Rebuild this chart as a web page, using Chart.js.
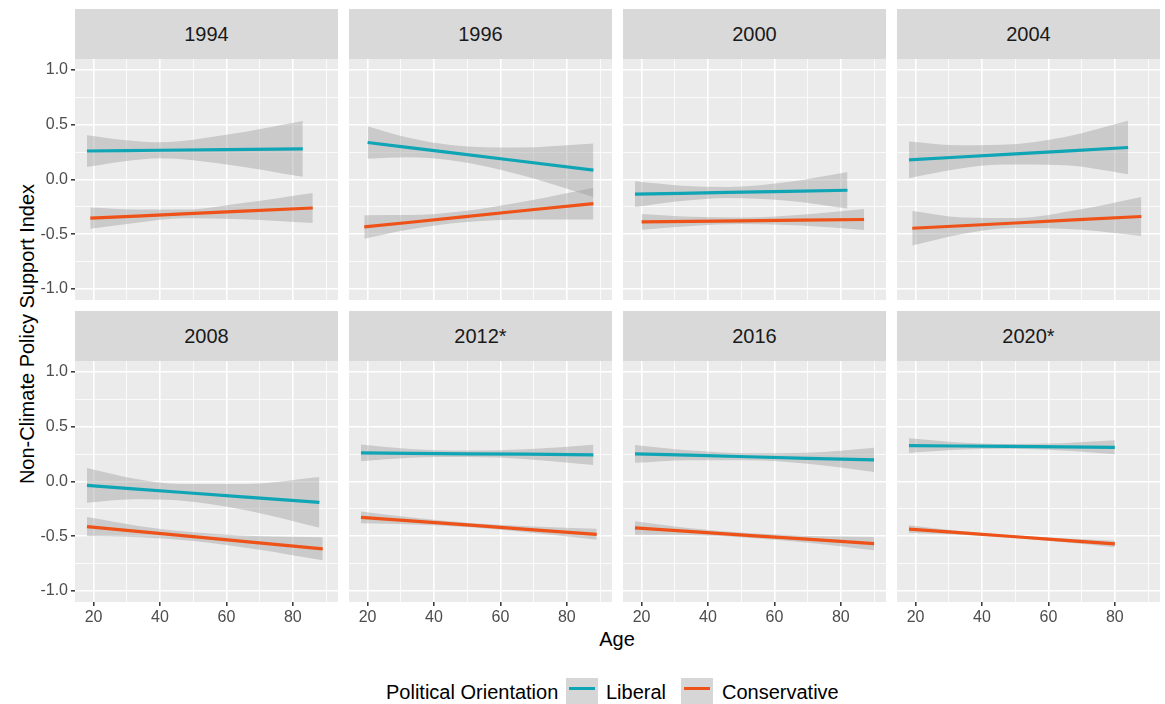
<!DOCTYPE html>
<html>
<head>
<meta charset="utf-8">
<script src="https://cdn.jsdelivr.net/npm/chart.js@4.4.1/dist/chart.umd.min.js"></script>
<style>
  html, body { margin: 0; padding: 0; background: #ffffff; }
  body { width: 1165px; height: 704px; position: relative; overflow: hidden;
         font-family: "Liberation Sans", Arial, sans-serif; }
  canvas { position: absolute; }
  .strip { position: absolute; background: #d9d9d9; color: #1a1a1a; font-size: 20px;
           display: flex; align-items: center; justify-content: center; }
  .title { position: absolute; color: #000; font-size: 20px; white-space: nowrap; }
  .key { position: absolute; background: #d6d6d6; }
  .key span { position: absolute; left: 3px; right: 3px; height: 3px; top: 9px; }
</style>
</head>
<body>
<div class="title" id="ytitle">Non-Climate Policy Support Index</div>
<div class="title" style="left:617px; top:639px; transform:translate(-50%,-50%);">Age</div>
<div class="title" style="left:386px; top:692px; transform:translateY(-50%);">Political Orientation</div>
<div class="key" style="left:566px; top:678px; width:32px; height:26px;"><span style="background:#0fa5b5"></span></div>
<div class="title" style="left:606px; top:692px; transform:translateY(-50%);">Liberal</div>
<div class="key" style="left:681px; top:678px; width:32px; height:26px;"><span style="background:#ee5218"></span></div>
<div class="title" style="left:722px; top:692px; transform:translateY(-50%);">Conservative</div>

<script>
// Survey waves shown as facets
const panelLabels = ['1994', '1996', '2000', '2004', '2008', '2012*', '2016', '2020*'];

// Axis breaks
const ageTicks = [20, 30, 40, 50, 60, 70, 80, 90];
const indexTicks = [-1, -0.75, -0.5, -0.25, 0, 0.25, 0.5, 0.75, 1];

// Liberal respondents: linear fit of the index on age, with 95% band
const liberalAges = [
  [18, 30, 40, 60, 83], [20, 32, 45, 65, 88], [18, 32, 46, 64, 82], [18, 32, 46, 65, 84],
  [18, 32, 46, 66, 88], [18, 33, 50, 68, 88], [18, 34, 52, 70, 90], [18, 32, 48, 64, 80]
];
const liberalFit = [
  [0.26, 0.264, 0.267, 0.273, 0.28], [0.338, 0.293, 0.245, 0.171, 0.085],
  [-0.134, -0.126, -0.118, -0.108, -0.098], [0.179, 0.203, 0.227, 0.259, 0.292],
  [-0.036, -0.067, -0.098, -0.142, -0.19], [0.261, 0.257, 0.253, 0.249, 0.243],
  [0.252, 0.24, 0.226, 0.212, 0.197], [0.327, 0.324, 0.32, 0.316, 0.312]
];
const liberalUpper = [
  [0.405, 0.359, 0.34, 0.408, 0.535], [0.487, 0.383, 0.315, 0.291, 0.329],
  [-0.017, -0.056, -0.068, -0.023, 0.069], [0.346, 0.313, 0.317, 0.389, 0.536],
  [0.123, 0.028, -0.023, -0.022, 0.042], [0.337, 0.297, 0.283, 0.294, 0.335],
  [0.334, 0.285, 0.258, 0.262, 0.307], [0.394, 0.359, 0.342, 0.349, 0.376]
];
const liberalLower = [
  [0.115, 0.169, 0.194, 0.138, 0.025], [0.189, 0.203, 0.175, 0.051, -0.159],
  [-0.251, -0.196, -0.168, -0.193, -0.265], [0.012, 0.093, 0.137, 0.129, 0.048],
  [-0.195, -0.162, -0.173, -0.262, -0.422], [0.185, 0.217, 0.223, 0.204, 0.151],
  [0.17, 0.195, 0.194, 0.162, 0.087], [0.26, 0.289, 0.298, 0.283, 0.248]
];

// Conservative respondents
const conservativeAges = [
  [19, 33, 47, 65, 86], [19, 33, 48, 68, 88], [20, 35, 50, 68, 87], [19, 34, 50, 69, 88],
  [18, 34, 50, 69, 89], [18, 34, 52, 70, 89], [18, 34, 53, 71, 90], [18, 32, 48, 64, 80]
];
const conservativeFit = [
  [-0.353, -0.334, -0.314, -0.289, -0.26], [-0.433, -0.39, -0.343, -0.281, -0.22],
  [-0.387, -0.382, -0.377, -0.371, -0.365], [-0.445, -0.422, -0.397, -0.367, -0.338],
  [-0.412, -0.458, -0.503, -0.558, -0.615], [-0.327, -0.362, -0.401, -0.441, -0.482],
  [-0.424, -0.456, -0.494, -0.529, -0.567], [-0.434, -0.465, -0.5, -0.535, -0.57]
];
const conservativeUpper = [
  [-0.256, -0.274, -0.274, -0.214, -0.123], [-0.326, -0.325, -0.293, -0.196, -0.075],
  [-0.315, -0.34, -0.347, -0.321, -0.269], [-0.288, -0.347, -0.352, -0.277, -0.16],
  [-0.324, -0.408, -0.463, -0.498, -0.51], [-0.274, -0.332, -0.381, -0.411, -0.432],
  [-0.362, -0.424, -0.472, -0.497, -0.506], [-0.399, -0.447, -0.488, -0.518, -0.54]
];
const conservativeLower = [
  [-0.45, -0.394, -0.354, -0.364, -0.397], [-0.54, -0.455, -0.393, -0.366, -0.365],
  [-0.459, -0.424, -0.407, -0.421, -0.461], [-0.602, -0.497, -0.442, -0.457, -0.516],
  [-0.5, -0.508, -0.543, -0.618, -0.72], [-0.38, -0.392, -0.421, -0.471, -0.532],
  [-0.486, -0.488, -0.516, -0.561, -0.628], [-0.469, -0.483, -0.512, -0.552, -0.6]
];

const LIBERAL = '#0fa5b5';
const CONSERVATIVE = '#ee5218';
const BAND = 'rgba(153,153,153,0.4)';

// Facet grid geometry
const colLeft = [75, 349, 623, 897];
const rowStripTop = [9, 311];
const PANEL_W = 263, STRIP_H = 50, PANEL_H = 241;
const Y_AXIS_W = 50, X_AXIS_H = 32;

const yt = document.getElementById('ytitle');
yt.style.left = '27px';
yt.style.top = '334px';
yt.style.transform = 'translate(-50%,-50%) rotate(-90deg)';

const panelBackground = {
  id: 'panelBackground',
  beforeDraw(chart) {
    const a = chart.chartArea, c = chart.ctx;
    c.save();
    c.fillStyle = '#ebebeb';
    c.fillRect(a.left, a.top, a.right - a.left, a.bottom - a.top);
    c.restore();
  }
};

function pts(xs, ys) { return xs.map((x, i) => ({ x: x, y: ys[i] })); }

panelLabels.forEach((label, p) => {
  const row = Math.floor(p / 4), col = p % 4;
  const leftAxis = col === 0, bottomAxis = row === 1;
  const plotTop = rowStripTop[row] + STRIP_H;

  const strip = document.createElement('div');
  strip.className = 'strip';
  strip.textContent = label;
  Object.assign(strip.style, {
    left: colLeft[col] + 'px', top: rowStripTop[row] + 'px',
    width: PANEL_W + 'px', height: STRIP_H + 'px'
  });
  document.body.appendChild(strip);

  const yw = leftAxis ? Y_AXIS_W : 0;
  const xh = bottomAxis ? X_AXIS_H : 0;
  const cv = document.createElement('canvas');
  cv.width = PANEL_W + yw;
  cv.height = PANEL_H + xh;
  cv.style.left = (colLeft[col] - yw) + 'px';
  cv.style.top = plotTop + 'px';
  document.body.appendChild(cv);

  const band = (xs, up, lo) => [
    { data: pts(xs, up), borderWidth: 0, pointRadius: 0, fill: false,
      cubicInterpolationMode: 'monotone', backgroundColor: BAND },
    { data: pts(xs, lo), borderWidth: 0, pointRadius: 0, fill: '-1',
      cubicInterpolationMode: 'monotone', backgroundColor: BAND }
  ];

  // fitted lines first so they are painted above the bands
  const datasets = [
    { data: pts(liberalAges[p], liberalFit[p]), borderColor: LIBERAL, borderWidth: 3.2,
      pointRadius: 0, fill: false, borderCapStyle: 'butt' },
    { data: pts(conservativeAges[p], conservativeFit[p]), borderColor: CONSERVATIVE, borderWidth: 3.2,
      pointRadius: 0, fill: false, borderCapStyle: 'butt' },
    ...band(liberalAges[p], liberalUpper[p], liberalLower[p]),
    ...band(conservativeAges[p], conservativeUpper[p], conservativeLower[p])
  ];

  const isMajorX = v => v % 20 === 0;
  const isMajorY = v => Math.abs(v * 2 - Math.round(v * 2)) < 1e-9;

  new Chart(cv, {
    type: 'line',
    data: { datasets },
    plugins: [panelBackground],
    options: {
      responsive: false,
      animation: false,
      devicePixelRatio: 1,
      layout: { padding: 0 },
      plugins: { legend: { display: false }, tooltip: { enabled: false } },
      elements: { line: { tension: 0 } },
      scales: {
        x: {
          type: 'linear', min: 14.4, max: 93.6,
          afterBuildTicks: s => { s.ticks = ageTicks.map(v => ({ value: v })); },
          afterFit: s => { s.height = xh; s.paddingLeft = 0; s.paddingRight = 0; },
          border: { display: false },
          grid: {
            color: '#ffffff',
            lineWidth: c => (c.tick && isMajorX(c.tick.value)) ? 1.6 : 0.8,
            drawTicks: bottomAxis,
            tickLength: 4,
            tickWidth: 1.5,
            tickColor: c => (c.tick && isMajorX(c.tick.value)) ? '#333333' : 'rgba(0,0,0,0)'
          },
          ticks: {
            display: bottomAxis, autoSkip: false, maxRotation: 0, padding: 2,
            color: '#4d4d4d', font: { family: 'Liberation Sans', size: 16 },
            callback: v => isMajorX(v) ? String(v) : ''
          }
        },
        y: {
          type: 'linear', min: -1.1, max: 1.1,
          afterBuildTicks: s => { s.ticks = indexTicks.map(v => ({ value: v })); },
          afterFit: s => { s.width = yw; s.paddingTop = 0; s.paddingBottom = 0; },
          border: { display: false },
          grid: {
            color: '#ffffff',
            lineWidth: c => (c.tick && isMajorY(c.tick.value)) ? 1.6 : 0.8,
            drawTicks: leftAxis,
            tickLength: 4,
            tickWidth: 1.5,
            tickColor: c => (c.tick && isMajorY(c.tick.value)) ? '#333333' : 'rgba(0,0,0,0)'
          },
          ticks: {
            display: leftAxis, autoSkip: false, padding: 3,
            color: '#4d4d4d', font: { family: 'Liberation Sans', size: 16 },
            callback: v => isMajorY(v) ? v.toFixed(1) : ''
          }
        }
      }
    }
  });
});
</script>
</body>
</html>
